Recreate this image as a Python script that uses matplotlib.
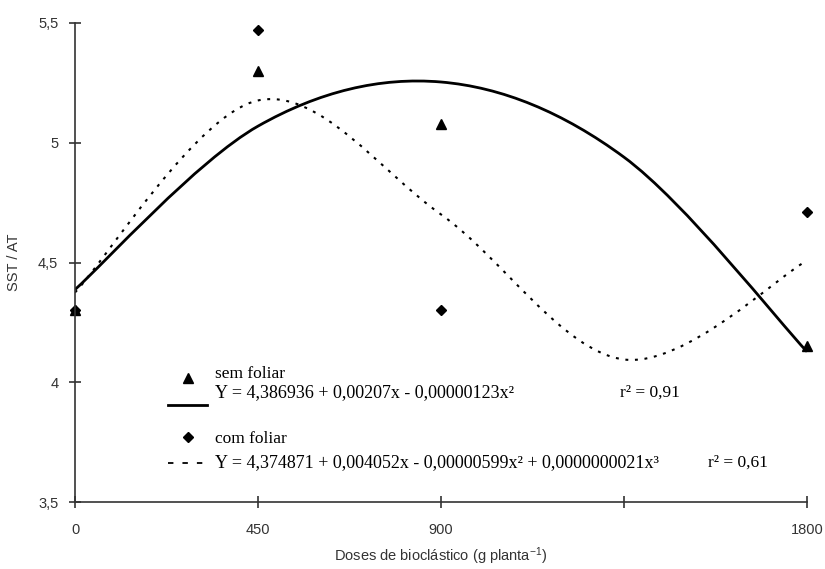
import numpy as np
import matplotlib
matplotlib.use('Agg')
import matplotlib.pyplot as plt
from matplotlib.path import Path
from matplotlib.patches import PathPatch
from matplotlib.ticker import FuncFormatter

plt.rcParams['mathtext.fontset'] = 'custom'
plt.rcParams['mathtext.rm'] = 'Liberation Sans'
plt.rcParams['mathtext.it'] = 'Liberation Sans'

# dados observados
doses = [0, 450, 900, 1800]
sem_foliar = [4.30, 5.30, 5.08, 4.15]
com_foliar = [4.30, 5.47, 4.30, 4.71]

# coeficientes das regressoes
coef_sem = [4.386936, 0.00207, -0.00000123]
coef_com = [4.374871, 0.004052, -0.00000599, 0.0000000021]
# doses onde a linha de tendencia foi calculada (linha suavizada tipo Excel)
doses_curva = [0, 450, 900, 1350, 1800]

xticks = [0, 450, 900, 1350, 1800]
xticklabels = ['0', '450', '900', '', '1800']
yticks = [3.5, 4, 4.5, 5, 5.5]


def poly(coefs, xs):
    xs = np.asarray(xs, dtype=float)
    return sum(c * xs ** i for i, c in enumerate(coefs))


def smooth_path(xs, ys):
    # curva de Bezier tipo Catmull-Rom passando pelos pontos
    pts = np.column_stack([xs, ys])
    n = len(pts)
    verts = [pts[0]]
    codes = [Path.MOVETO]
    for i in range(n - 1):
        p0 = pts[max(i - 1, 0)]
        p1 = pts[i]
        p2 = pts[i + 1]
        p3 = pts[min(i + 2, n - 1)]
        c1 = p1 + (p2 - p0) / 6.0
        c2 = p2 - (p3 - p1) / 6.0
        verts += [c1, c2, p2]
        codes += [Path.CURVE4] * 3
    return Path(verts, codes)


W, H = 825, 569
fig = plt.figure(figsize=(W / 100, H / 100), dpi=100)
ax = fig.add_axes([75 / W, 1 - 502 / H, (807 - 75) / W, (502 - 23) / H])

p_sem = smooth_path(doses_curva, poly(coef_sem, doses_curva))
p_com = smooth_path(doses_curva, poly(coef_com, doses_curva))
ax.add_patch(PathPatch(p_sem, facecolor='none', edgecolor='black', lw=2))
ax.add_patch(PathPatch(p_com, facecolor='none', edgecolor='black', lw=1.5,
                       linestyle=(0, (1.4, 3.2))))
ax.plot(doses, sem_foliar, ls='none', marker='^', ms=7, color='black', clip_on=False)
ax.plot(doses, com_foliar, ls='none', marker='D', ms=5, color='black', clip_on=False)

ax.set_xlim(0, 1800)
ax.set_ylim(3.5, 5.5)
ax.set_xticks(xticks)
ax.set_xticklabels(xticklabels)
ax.set_yticks(yticks)
ax.yaxis.set_major_formatter(FuncFormatter(lambda v, p: ('%g' % v).replace('.', ',')))
for s in ['top', 'right']:
    ax.spines[s].set_visible(False)
for s in ['left', 'bottom']:
    ax.spines[s].set_color('#333333')
    ax.spines[s].set_linewidth(1.2)
ax.tick_params(direction='inout', length=8, width=1.2, color='#333333',
               labelsize=10.5, labelcolor='#333333')
ax.tick_params(axis='x', pad=11)
ax.tick_params(axis='y', pad=8)
for lab in ax.get_xticklabels() + ax.get_yticklabels():
    lab.set_family('Liberation Sans')

ax.set_ylabel('SST / AT', family='Liberation Sans', fontsize=10.5, color='#333333', va='center')
ax.yaxis.set_label_coords((14 - 75) / 732, 0.5)
ax.set_xlabel('Doses de bioclástico (g planta$^{-1}$)', family='Liberation Sans',
              fontsize=10.5, color='#333333', va='center')
ax.xaxis.set_label_coords(0.5, (502 - 556) / 479)


def fx(px):
    return px / W


def fy(py):
    return 1 - py / H


serif = dict(family='Liberation Serif', fontsize=12.5, va='center', color='black')
eq = dict(serif, fontsize=13)
fig.text(fx(215), fy(374), 'sem foliar', **serif)
fig.text(fx(215), fy(393), 'Y = 4,386936 + 0,00207x - 0,00000123x²', **eq)
fig.text(fx(620), fy(393), 'r² = 0,91', **serif)
fig.text(fx(215), fy(439), 'com foliar', **serif)
fig.text(fx(215), fy(463), 'Y = 4,374871 + 0,004052x - 0,00000599x² + 0,0000000021x³', **eq)
fig.text(fx(708), fy(463), 'r² = 0,61', **serif)

fig.add_artist(plt.Line2D([fx(188)], [fy(378)], marker='^', ms=7, color='black', ls='none'))
fig.add_artist(plt.Line2D([fx(168), fx(207)], [fy(405), fy(405)], color='black', lw=2))
fig.add_artist(plt.Line2D([fx(188)], [fy(437)], marker='D', ms=5, color='black', ls='none'))
fig.add_artist(plt.Line2D([fx(168), fx(204)], [fy(463), fy(463)], color='black', lw=1.3,
                          dashes=(3, 5)))

fig.savefig('out.png', dpi=100)
